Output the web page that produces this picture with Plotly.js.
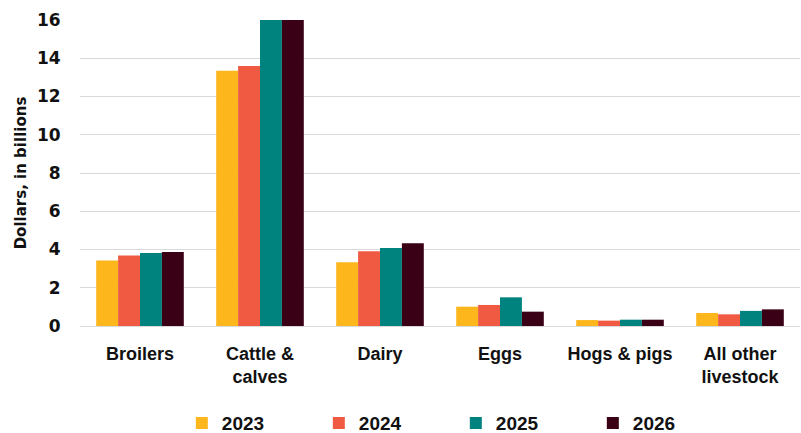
<!DOCTYPE html>
<html>
<head>
<meta charset="utf-8">
<script src="https://cdn.plot.ly/plotly-3.0.1.min.js"></script>
<style>
  html, body { margin: 0; padding: 0; background: #fff; }
  #chart { width: 801px; height: 433px; }
</style>
</head>
<body>
<div id="chart"></div>
<script>
// Livestock cash receipts by category, dollars in billions
const categories = ["Broilers", "Cattle &<br>calves", "Dairy", "Eggs", "Hogs & pigs", "All other<br>livestock"];
const years = ["2023", "2024", "2025", "2026"];

const values2023 = [3.42, 13.35, 3.33, 1.01, 0.31, 0.68];
const values2024 = [3.68, 13.60, 3.91, 1.10, 0.28, 0.61];
const values2025 = [3.82, 16.30, 4.08, 1.50, 0.33, 0.79];
const values2026 = [3.87, 16.60, 4.33, 0.75, 0.33, 0.87];

const yTicks = [0, 2, 4, 6, 8, 10, 12, 14, 16];

const colors = ["#FDB61C", "#F05A42", "#00837F", "#3A0016"];
const series = [values2023, values2024, values2025, values2026];

const traces = series.map((vals, i) => ({
  type: "bar",
  name: years[i],
  x: categories,
  y: vals,
  marker: { color: colors[i], line: { width: 0 } },
  hoverinfo: "skip"
}));

const labelFont = "'Liberation Sans', Arial, sans-serif";
const numFont = "'DejaVu Sans', sans-serif";

const layout = {
  width: 801,
  height: 433,
  margin: { l: 80, r: 1, t: 20, b: 107 },
  paper_bgcolor: "#ffffff",
  plot_bgcolor: "#ffffff",
  barmode: "group",
  bargap: 0.27,
  bargroupgap: 0,
  showlegend: true,
  legend: {
    orientation: "h",
    xref: "container",
    yref: "container",
    x: 0.227,
    xanchor: "left",
    y: 0.023,
    yanchor: "middle",
    entrywidth: 92,
    entrywidthmode: "pixels",
    itemwidth: 30,
    font: { family: labelFont, size: 19, color: "#111", weight: "bold" },
    traceorder: "normal"
  },
  xaxis: {
    type: "category",
    showgrid: false,
    showline: false,
    zeroline: false,
    ticks: "outside",
    ticklen: 11,
    tickcolor: "rgba(0,0,0,0)",
    tickfont: { family: labelFont, size: 18, color: "#111", weight: "bold" }
  },
  yaxis: {
    range: [0, 16],
    tickvals: yTicks,
    ticktext: yTicks.map(String),
    showgrid: true,
    gridcolor: "#d9d9d9",
    gridwidth: 1,
    zeroline: true,
    zerolinecolor: "#d9d9d9",
    zerolinewidth: 1,
    showline: false,
    ticks: "outside",
    ticklen: 15,
    tickcolor: "rgba(0,0,0,0)",
    tickfont: { family: numFont, size: 17, color: "#111", weight: "bold" },
    title: {
      text: "Dollars, in billions",
      font: { family: numFont, size: 15, color: "#111", weight: "bold" },
      standoff: 6
    }
  }
};

Plotly.newPlot("chart", traces, layout, { staticPlot: true, displayModeBar: false });
</script>
</body>
</html>
